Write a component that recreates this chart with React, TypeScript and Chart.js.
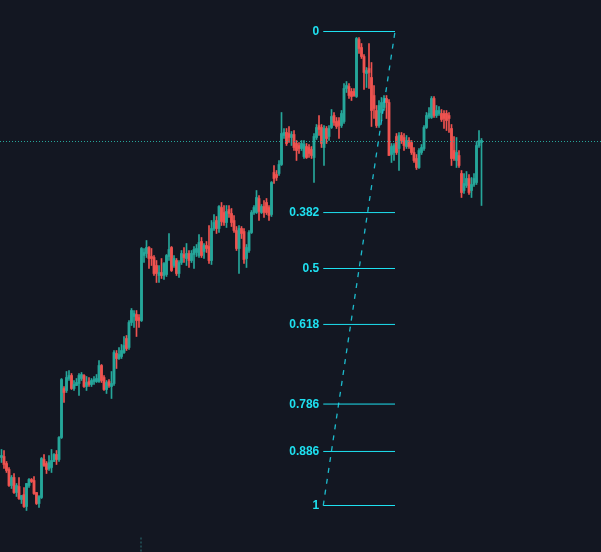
import React, { useEffect, useRef } from "react";
import { Chart, registerables } from "chart.js";

Chart.register(...registerables);

const opens = [
  143, 144, 137, 131, 115, 123, 108, 114, 101, 106,
  94, 115, 121, 120, 108, 97, 103, 141, 137, 132,
  133, 139, 146, 141, 163, 212, 210, 222, 225, 212,
  215, 217, 222, 225, 214, 219, 216, 219, 219, 219,
  235, 223, 211, 219, 214, 217, 247, 242, 244, 248,
  262, 253, 278, 284, 286, 283, 280, 345, 347, 353,
  344, 343, 335, 325, 328, 325, 326, 344, 353, 335,
  340, 327, 338, 346, 342, 347, 340, 346, 348, 345,
  359, 349, 355, 354, 340, 372, 380, 372, 393, 388,
  378, 391, 387, 380, 370, 352, 372, 369, 342, 350,
  368, 388, 388, 402, 388, 394, 398, 393, 386, 428,
  426, 427, 436, 465, 468, 467, 463, 466, 457, 455,
  452, 444, 454, 453, 451, 443, 463, 475, 473, 453,
  472, 464, 473, 485, 479, 480, 475, 479, 512, 514,
  509, 509, 504, 561, 553, 544, 527, 532, 523, 505,
  490, 475, 488, 493, 502, 498, 446, 448, 464, 452,
  465, 463, 454, 460, 458, 448, 442, 433, 448, 452,
  473, 484, 483, 502, 485, 487, 487, 487, 487, 485,
  472, 450, 440, 445, 427, 410, 415, 422, 410, 416,
  418, 455, 458,
];

const closes = [
  145, 136, 130, 115, 123, 108, 115, 102, 105, 94,
  117, 121, 119, 107, 97, 104, 142, 135, 131, 138,
  140, 146, 141, 163, 221, 208, 223, 225, 212, 216,
  218, 225, 226, 214, 218, 216, 220, 221, 222, 235,
  220, 211, 218, 215, 217, 248, 242, 246, 250, 255,
  252, 278, 290, 287, 280, 280, 352, 348, 353, 342,
  342, 327, 327, 328, 325, 337, 345, 351, 330, 342,
  327, 338, 347, 343, 347, 340, 347, 351, 352, 358,
  345, 355, 352, 340, 372, 378, 372, 394, 379, 378,
  389, 387, 378, 370, 352, 372, 367, 341, 353, 368,
  388, 393, 403, 389, 394, 388, 388, 385, 418, 422,
  423, 436, 467, 468, 457, 463, 466, 453, 450, 452,
  457, 456, 443, 447, 445, 464, 473, 471, 457, 472,
  462, 472, 484, 478, 474, 475, 487, 512, 515, 505,
  504, 505, 562, 552, 544, 528, 530, 528, 490, 492,
  475, 495, 498, 502, 498, 445, 454, 455, 448, 465,
  460, 455, 460, 454, 448, 440, 433, 450, 453, 473,
  485, 487, 502, 485, 490, 490, 481, 482, 480, 482,
  442, 442, 448, 435, 408, 417, 422, 408, 416, 422,
  455, 460, 460,
];

const highs = [
  151, 150, 139, 133, 125, 127, 117, 123, 105, 113,
  117, 122, 122, 124, 108, 105, 143, 146, 139, 145,
  151, 147, 150, 164, 222, 214, 229, 230, 227, 220,
  222, 227, 228, 226, 224, 223, 222, 224, 226, 240,
  236, 225, 220, 221, 229, 250, 250, 253, 256, 264,
  265, 280, 292, 290, 290, 286, 353, 352, 360, 354,
  352, 345, 340, 335, 342, 338, 346, 367, 354, 345,
  342, 340, 350, 353, 357, 350, 350, 354, 356, 366,
  363, 357, 359, 375, 380, 386, 384, 395, 398, 395,
  395, 395, 392, 385, 374, 375, 374, 372, 356, 370,
  390, 395, 410, 405, 396, 400, 402, 395, 419, 435,
  430, 440, 488, 472, 472, 474, 469, 470, 460, 458,
  460, 460, 457, 456, 454, 467, 476, 485, 476, 475,
  474, 475, 491, 488, 483, 483, 490, 517, 519, 517,
  512, 512, 563, 563, 557, 546, 533, 557, 538, 515,
  495, 500, 503, 505, 505, 501, 457, 457, 467, 468,
  468, 467, 465, 463, 460, 453, 446, 452, 456, 475,
  488, 493, 504, 504, 495, 494, 491, 490, 490, 488,
  476, 464, 463, 450, 430, 427, 429, 426, 423, 427,
  459, 470, 462,
];

const lows = [
  138, 132, 128, 114, 112, 107, 104, 101, 97, 93,
  90, 113, 118, 106, 96, 93, 102, 134, 127, 130,
  128, 139, 136, 139, 162, 198, 208, 220, 211, 210,
  215, 205, 220, 213, 210, 214, 214, 216, 218, 218,
  218, 210, 207, 213, 202, 215, 232, 241, 242, 247,
  250, 251, 275, 273, 264, 273, 279, 338, 343, 332,
  335, 325, 318, 318, 322, 321, 324, 340, 329, 333,
  325, 323, 336, 338, 335, 333, 338, 332, 344, 343,
  343, 342, 348, 337, 336, 370, 367, 368, 375, 375,
  373, 383, 374, 368, 350, 327, 362, 337, 333, 348,
  367, 386, 387, 380, 387, 383, 386, 380, 384, 417,
  420, 425, 435, 462, 455, 458, 455, 450, 440, 447,
  450, 442, 442, 443, 442, 418, 461, 465, 453, 435,
  457, 460, 472, 475, 472, 462, 473, 477, 508, 502,
  500, 504, 503, 547, 542, 511, 513, 512, 474, 482,
  473, 473, 480, 490, 482, 445, 438, 440, 446, 430,
  457, 450, 452, 452, 446, 438, 431, 432, 446, 450,
  472, 482, 482, 483, 483, 485, 479, 472, 470, 468,
  435, 440, 433, 433, 403, 407, 413, 406, 403, 414,
  416, 453, 395,
];

const fibRatios = [0, 0.382, 0.5, 0.618, 0.786, 0.886, 1];
const fibLabels = ["0", "0.382", "0.5", "0.618", "0.786", "0.886", "1"];
const fibHigh = 569;
const fibLow = 95;
const fibStartIndex = 128.7;
const fibEndIndex = 157.4;
const lastPrice = 459;
const markerIndex = 55.8;
const markerTop = 63;

const X_MIN = -0.6;
const X_MAX = 239.8;
const Y_MIN = 48.5;
const Y_MAX = 600.5;

const UP = "#26a69a";
const DOWN = "#ef5350";
const FIB = "#1ee0f0";
const BG = "#131722";

export default function App() {
  const ref = useRef<HTMLCanvasElement | null>(null);

  useEffect(() => {
    if (!ref.current) return;
    const idx = closes.map((_, i) => i);
    const colorAt = (i: number) => (closes[i] >= opens[i] ? UP : DOWN);
    const fibPrice = (r: number) => fibHigh - r * (fibHigh - fibLow);

    const fibDatasets: any[] = fibRatios.map((r, k) => ({
      type: "line",
      label: fibLabels[k],
      data: [
        { x: fibStartIndex, y: fibPrice(r) },
        { x: fibEndIndex, y: fibPrice(r) },
      ],
      borderColor: FIB,
      borderWidth: 1,
      pointRadius: 0,
      order: 0,
    }));

    const labelPlugin = {
      id: "fibLabels",
      afterDatasetsDraw(chart: any) {
        const { ctx, scales } = chart;
        ctx.save();
        ctx.font = 'bold 12px "Liberation Sans", Arial, sans-serif';
        ctx.fillStyle = FIB;
        ctx.textAlign = "right";
        ctx.textBaseline = "middle";
        const xp = scales.x.getPixelForValue(fibStartIndex) - 4;
        fibRatios.forEach((r, k) => {
          ctx.fillText(fibLabels[k], xp, scales.y.getPixelForValue(fibPrice(r)) + 0.5);
        });
        ctx.restore();
      },
    };

    const chart = new Chart(ref.current, {
      type: "bar",
      data: {
        datasets: [
          {
            type: "bar",
            label: "wicks",
            data: idx.map((i) => ({ x: i, y: [lows[i], highs[i]] })) as any,
            backgroundColor: (c: any) => colorAt(c.dataIndex),
            barThickness: 1,
            grouped: false,
            order: 3,
          } as any,
          {
            type: "bar",
            label: "bodies",
            data: idx.map((i) => ({ x: i, y: [opens[i], closes[i]] })) as any,
            backgroundColor: (c: any) => colorAt(c.dataIndex),
            barThickness: 2.2,
            minBarLength: 1,
            grouped: false,
            order: 2,
          } as any,
          {
            type: "line",
            label: "price",
            data: [
              { x: X_MIN, y: lastPrice },
              { x: X_MAX, y: lastPrice },
            ],
            borderColor: UP,
            borderWidth: 1,
            borderDash: [1, 2],
            pointRadius: 0,
            order: 1,
          },
          {
            type: "line",
            label: "marker",
            data: [
              { x: markerIndex, y: markerTop },
              { x: markerIndex, y: Y_MIN },
            ],
            borderColor: "#2a7377",
            borderWidth: 1,
            borderDash: [2, 2],
            pointRadius: 0,
            order: 1,
          },
          ...fibDatasets,
          {
            type: "line",
            label: "trend",
            data: [
              { x: fibStartIndex, y: fibLow },
              { x: fibEndIndex, y: fibHigh },
            ],
            borderColor: "rgba(30, 196, 214, 0.95)",
            borderWidth: 1.3,
            borderDash: [5, 6],
            pointRadius: 0,
            order: 0,
          },
        ],
      },
      options: {
        animation: false,
        responsive: false,
        maintainAspectRatio: false,
        devicePixelRatio: 1,
        events: [],
        layout: { padding: 0 },
        plugins: { legend: { display: false }, tooltip: { enabled: false } },
        scales: {
          x: { type: "linear", min: X_MIN, max: X_MAX, display: false, offset: false },
          y: { type: "linear", min: Y_MIN, max: Y_MAX, display: false },
        },
      } as any,
      plugins: [labelPlugin],
    });
    return () => chart.destroy();
  }, []);

  return (
    <div
      style={{
        position: "fixed",
        left: 0,
        top: 0,
        width: 601,
        height: 552,
        background: BG,
        overflow: "hidden",
      }}
    >
      <canvas ref={ref} width={601} height={552} style={{ display: "block" }} />
    </div>
  );
}
